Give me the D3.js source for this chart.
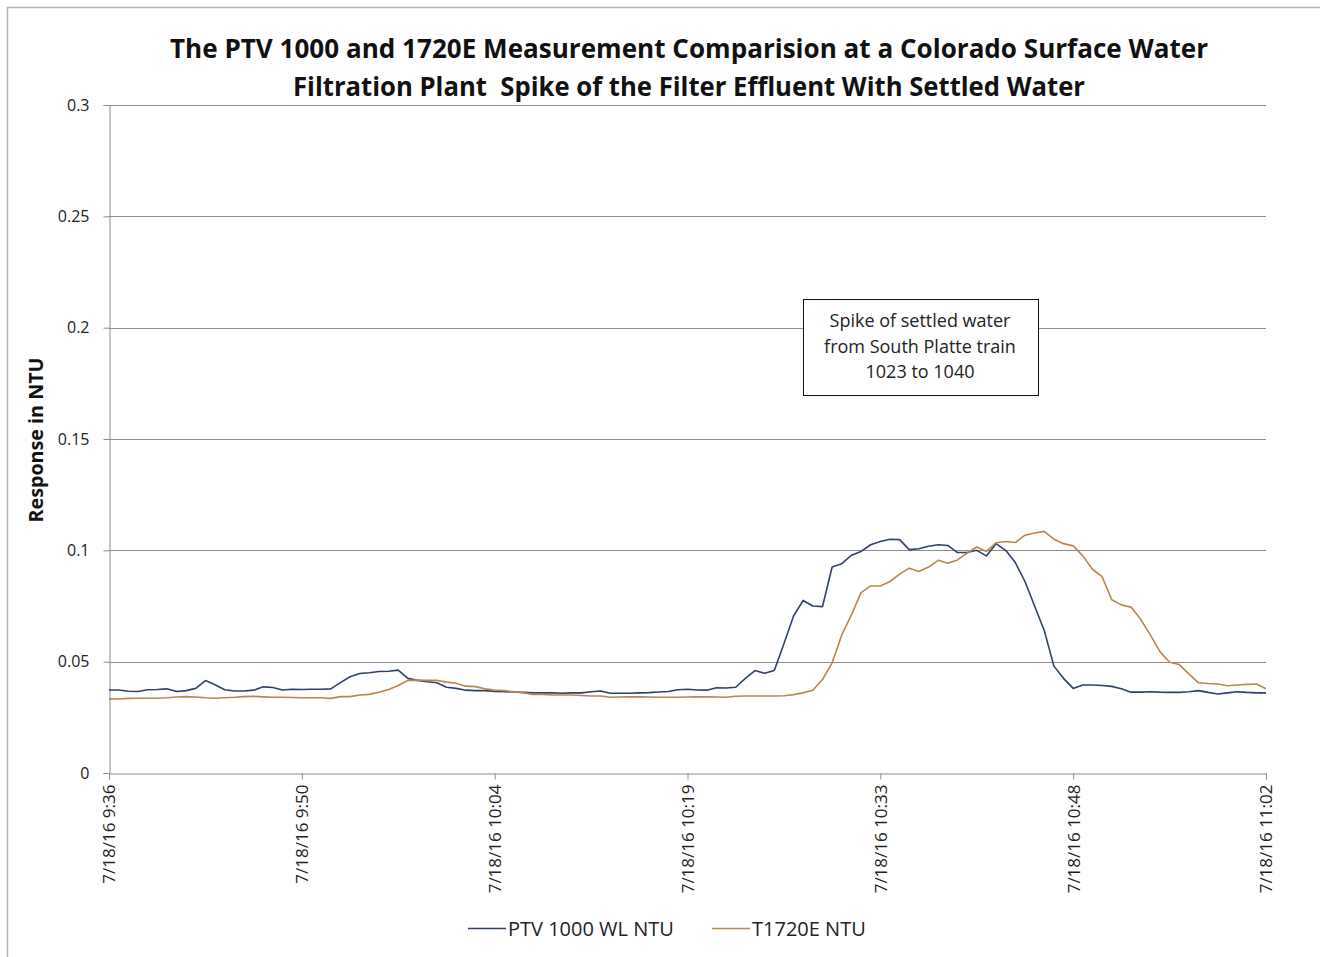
<!DOCTYPE html>
<html>
<head>
<meta charset="utf-8">
<script src="https://cdn.jsdelivr.net/npm/d3@7"></script>
<style>
  html, body { margin: 0; padding: 0; background: #fff; }
  svg { display: block; font-family: "Open Sans", "Liberation Sans", sans-serif; }
  text { white-space: pre; }
</style>
</head>
<body>
<div id="chart"></div>
<script>
// ---- data (equally spaced samples) ----
const tickLabels = ["7/18/16 9:36", "7/18/16 9:50", "7/18/16 10:04", "7/18/16 10:19",
                    "7/18/16 10:33", "7/18/16 10:48", "7/18/16 11:02"];

const ptvValues = [
  0.0373, 0.0373, 0.0367, 0.0366, 0.0374, 0.0375, 0.0378, 0.0366, 0.0370, 0.0380,
  0.0415, 0.0396, 0.0374, 0.0368, 0.0368, 0.0372, 0.0387, 0.0384, 0.0373, 0.0376,
  0.0375, 0.0376, 0.0376, 0.0378, 0.0406, 0.0432, 0.0447, 0.0450, 0.0456, 0.0457,
  0.0462, 0.0425, 0.0416, 0.0410, 0.0405, 0.0385, 0.0380, 0.0372, 0.0370, 0.0370,
  0.0366, 0.0365, 0.0364, 0.0362, 0.0360, 0.0360, 0.0360, 0.0358, 0.0360, 0.0360,
  0.0365, 0.0368, 0.0358, 0.0358, 0.0358, 0.0360, 0.0361, 0.0364, 0.0366, 0.0374,
  0.0376, 0.0373, 0.0372, 0.0383, 0.0382, 0.0385, 0.0425, 0.0460, 0.0448, 0.0460,
  0.0580, 0.0705, 0.0775, 0.0750, 0.0747, 0.0925, 0.0940, 0.0978, 0.0995, 0.1025,
  0.1040, 0.1050, 0.1048, 0.1003, 0.1007, 0.1018, 0.1025, 0.1022, 0.0990, 0.0990,
  0.1000, 0.0975, 0.1030, 0.1000, 0.0945, 0.0860, 0.0750, 0.0640, 0.0480, 0.0425,
  0.0380, 0.0395, 0.0395, 0.0393, 0.0389, 0.0378, 0.0363, 0.0363, 0.0365, 0.0363,
  0.0362, 0.0362, 0.0365, 0.0370, 0.0362, 0.0355, 0.0360, 0.0365, 0.0362, 0.0360,
  0.0360
];

const t1720Values = [
  0.0333, 0.0332, 0.0335, 0.0336, 0.0336, 0.0336, 0.0338, 0.0341, 0.0343, 0.0341,
  0.0338, 0.0336, 0.0338, 0.0340, 0.0343, 0.0344, 0.0342, 0.0340, 0.0340, 0.0339,
  0.0338, 0.0338, 0.0338, 0.0335, 0.0343, 0.0343, 0.0350, 0.0353, 0.0363, 0.0375,
  0.0393, 0.0416, 0.0417, 0.0416, 0.0416, 0.0408, 0.0403, 0.0390, 0.0388, 0.0378,
  0.0373, 0.0370, 0.0365, 0.0360, 0.0353, 0.0353, 0.0350, 0.0350, 0.0350, 0.0348,
  0.0346, 0.0346, 0.0340, 0.0341, 0.0342, 0.0342, 0.0341, 0.0340, 0.0340, 0.0340,
  0.0341, 0.0342, 0.0342, 0.0341, 0.0340, 0.0345, 0.0346, 0.0346, 0.0346, 0.0346,
  0.0347, 0.0352, 0.0360, 0.0372, 0.0420, 0.0495, 0.0620, 0.0710, 0.0810, 0.0840,
  0.0840, 0.0860, 0.0893, 0.0920, 0.0905, 0.0925, 0.0955, 0.0942, 0.0957, 0.0988,
  0.1015, 0.0995, 0.1034, 0.1040, 0.1035, 0.1068, 0.1078, 0.1085, 0.1050, 0.1030,
  0.1020, 0.0975, 0.0915, 0.0882, 0.0778, 0.0755, 0.0745, 0.0690, 0.0620, 0.0545,
  0.0497, 0.0487, 0.0445, 0.0405, 0.0402, 0.0400, 0.0392, 0.0395, 0.0398, 0.0400,
  0.0378
];

const yTicks = [0, 0.05, 0.1, 0.15, 0.2, 0.25, 0.3];
const seriesNames = ["PTV 1000 WL NTU", "T1720E NTU"];
const seriesColors = ["#2d4169", "#b8864e"];
const titleLines = ["The PTV 1000 and 1720E Measurement Comparision at a Colorado Surface Water",
                    "Filtration Plant  Spike of the Filter Effluent With Settled Water"];
const noteLines = ["Spike of settled water", "from South Platte train", "1023 to 1040"];
const yTitle = "Response in NTU";

// ---- layout ----
const W = 1320, H = 957;
const m = { left: 109, right: 1266, top: 105, bottom: 773 };

const svg = d3.select("#chart").append("svg").attr("width", W).attr("height", H);

// outer chart border
svg.append("rect").attr("x", 7.5).attr("y", 7.5).attr("width", W).attr("height", H)
  .attr("fill", "none").attr("stroke", "#b4b4b4").attr("stroke-width", 1.5);

const n = ptvValues.length;
const x = d3.scaleLinear().domain([0, n - 1]).range([m.left, m.right]);
const y = d3.scaleLinear().domain([0, 0.3]).range([m.bottom, m.top]);

// gridlines
svg.append("g").selectAll("line").data(yTicks.filter(d => d > 0)).join("line")
  .attr("x1", m.left).attr("x2", m.right)
  .attr("y1", d => Math.round(y(d)) + 0.5).attr("y2", d => Math.round(y(d)) + 0.5)
  .attr("stroke", "#8c8c8c").attr("stroke-width", 1);

// y axis
const yAxis = svg.append("g").attr("transform", `translate(${m.left + 0.5},0)`)
  .call(d3.axisLeft(y).tickValues(yTicks).tickFormat(d => d === 0 ? "0" : String(d)).tickSize(6).tickPadding(14));
yAxis.select(".domain").attr("stroke", "#8c8c8c");
yAxis.selectAll(".tick line").attr("stroke", "#8c8c8c");
yAxis.selectAll(".tick text").attr("font-size", 16).attr("fill", "#222")
  .attr("font-family", "'Open Sans', sans-serif");

// x axis (category style with labels every 20 samples)
const tickIdx = tickLabels.map((d, i) => i * (n - 1) / (tickLabels.length - 1));
const xAxis = svg.append("g").attr("transform", `translate(0,${m.bottom + 0.5})`)
  .call(d3.axisBottom(x).tickValues(tickIdx).tickFormat((d, i) => tickLabels[i]).tickSize(6));
xAxis.select(".domain").attr("stroke", "#8c8c8c");
xAxis.selectAll(".tick line").attr("stroke", "#8c8c8c");
xAxis.selectAll(".tick text")
  .attr("font-size", 17).attr("fill", "#222").attr("font-family", "'Open Sans', sans-serif")
  .attr("transform", "rotate(-90)")
  .attr("text-anchor", "end")
  .attr("x", -11).attr("y", 0).attr("dy", "0.35em");

// lines
const line = d3.line().x((d, i) => x(i)).y(d => y(d));
[ptvValues, t1720Values].forEach((vals, k) => {
  svg.append("path").datum(vals).attr("d", line)
    .attr("fill", "none").attr("stroke", seriesColors[k]).attr("stroke-width", 1.6)
    .attr("stroke-linejoin", "round");
});

// title
const title = svg.append("g").attr("font-weight", "bold").attr("fill", "#111").attr("text-anchor", "middle");
title.append("text").attr("x", 689).attr("y", 58).attr("font-size", 27)
  .attr("textLength", 1038).attr("lengthAdjust", "spacingAndGlyphs").text(titleLines[0]);
title.append("text").attr("x", 689).attr("y", 96).attr("font-size", 27)
  .attr("textLength", 792).attr("lengthAdjust", "spacingAndGlyphs").text(titleLines[1]);

// y axis title
svg.append("text").attr("transform", "translate(43,440) rotate(-90)")
  .attr("text-anchor", "middle").attr("font-size", 19).attr("font-weight", "bold").attr("fill", "#111")
  .attr("textLength", 165).attr("lengthAdjust", "spacingAndGlyphs")
  .text(yTitle);

// annotation box
const note = svg.append("g");
note.append("rect").attr("x", 803.5).attr("y", 299.5).attr("width", 235).attr("height", 96)
  .attr("fill", "#fff").attr("stroke", "#111").attr("stroke-width", 1);
note.selectAll("text").data(noteLines).join("text")
  .attr("x", 920).attr("y", (d, i) => 327 + i * 25.5)
  .attr("text-anchor", "middle").attr("font-size", 18).attr("fill", "#222").text(d => d);

// legend
const legend = svg.append("g");
const legX = [468, 712];
seriesNames.forEach((name, k) => {
  legend.append("line").attr("x1", legX[k]).attr("x2", legX[k] + 38)
    .attr("y1", 928.5).attr("y2", 928.5).attr("stroke", seriesColors[k]).attr("stroke-width", 1.6);
  legend.append("text").attr("x", legX[k] + 40).attr("y", 935.5)
    .attr("font-size", 20).attr("fill", "#222").text(name);
});
</script>
</body>
</html>
